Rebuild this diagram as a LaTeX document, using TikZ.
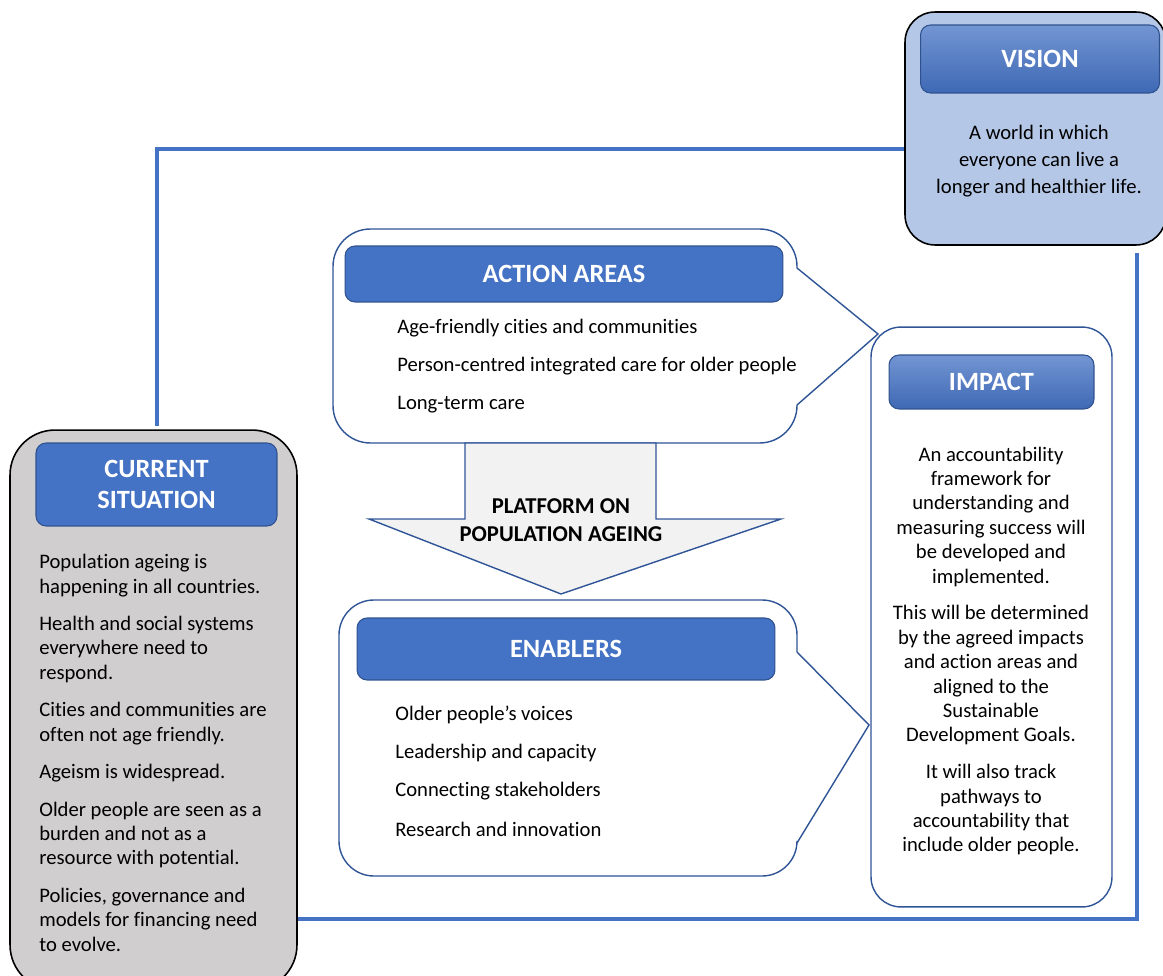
\documentclass[tikz,border=0pt]{standalone}
\usepackage{fontspec}
\setmainfont{Carlito}[Ligatures=NoCommon]
\usepackage{tikz}
\usetikzlibrary{positioning}
\usepackage{xcolor}
\definecolor{headblue}{HTML}{4472C4}
\definecolor{headedge}{HTML}{2F528F}
\definecolor{edgeblue}{HTML}{2F5597}
\definecolor{linkblue}{HTML}{4472C4}
\definecolor{visionblue}{HTML}{B4C7E7}
\definecolor{situgray}{HTML}{D0CECE}
\definecolor{arrowgray}{HTML}{F2F2F2}

\begin{document}
\begin{tikzpicture}[x=0.02cm, y=-0.02cm,
		head/.style={draw=headedge, line width=0.6pt, fill=headblue, rounded corners=0.2cm, text=white, font=\fontsize{15}{18}\selectfont\bfseries, align=center, inner sep=0pt},
		shadehead/.style={head, top color=headblue!75!white, bottom color=headblue!92!black},
		txt/.style={font=\fontsize{11.75}{13.9}\selectfont, inner sep=0pt},
		item/.style={txt, anchor=west},
		link/.style={draw=linkblue, line width=1.8pt},
		bubble/.style={draw=edgeblue, line width=0.8pt, fill=white}]
	\useasboundingbox (0,0) rectangle (1163,976);
	\clip (0,0) rectangle (1163,976);
	\node[draw=black, line width=0.9pt, fill=visionblue, rounded corners=0.6cm, minimum width=5.22cm, minimum height=4.66cm] (vision) at (1035.5,128.5) {};
	\node[shadehead, minimum width=4.78cm, minimum height=1.36cm] (visionhead) at (1040,59) {VISION};
	\node[txt, align=center, font=\fontsize{11.75}{15.3}\selectfont] (visiontext) at (1039,161) {A world in which\\everyone can live a\\longer and healthier life.};
	\node[draw=black, line width=0.9pt, fill=situgray, rounded corners=0.9cm, minimum width=5.74cm, minimum height=11.2cm] (situation) at (153.5,710) {};
	\node[head, minimum width=4.82cm, minimum height=1.66cm] (situhead) at (156.5,484.5) {CURRENT\\SITUATION};
	\node[txt, anchor=north west, align=left] (situtext) at (39,554) {Population ageing is\\happening in all countries.\\[7.4pt]
		Health and social systems\\everywhere need to\\respond.\\[7.4pt]
		Cities and communities are\\often not age friendly.\\[7.4pt]
		Ageism is widespread.\\[7.4pt]
		Older people are seen as a\\burden and not as a\\resource with potential.\\[7.4pt]
		Policies, governance and\\models for financing need\\to evolve.};
	\coordinate (leftbend) at (157,149);
	\coordinate (rightbend) at (1137,919);
	\draw[link, shorten >=2pt] (vision.west |- leftbend) -- (leftbend) -- (situation.north -| leftbend);
	\draw[link, shorten >=4pt] (situation.east |- rightbend) -- (rightbend) -- (vision.south -| rightbend);
	\node[bubble, rounded corners=0.6cm, minimum width=4.82cm, minimum height=11.6cm] (impact) at (991.5,617) {};
	\node[shadehead, minimum width=4.1cm, minimum height=1.08cm] (impacthead) at (991.5,382) {IMPACT};
	\node[txt, align=center] (impacttext) at (991,651) {An accountability\\framework for\\understanding and\\measuring success will\\be developed and\\implemented.\\[7pt]
		This will be determined\\by the agreed impacts\\and action areas and\\aligned to the\\Sustainable\\Development Goals.\\[7pt]
		It will also track\\pathways to\\accountability that\\include older people.};
	\draw[bubble] (797,268) [rounded corners=0.75cm] -- (797,229) -- (333,229) -- (333,443) -- (797,443) [sharp corners] -- (797,405) -- (878,334) -- cycle;
	\node[head, minimum width=8.76cm, minimum height=1.12cm] (actionhead) at (564,274) {ACTION AREAS};
	\node[item] (act1) at (397,328) {Age-friendly cities and communities};
	\node[item] (act2) at (397,366) {Person-centred integrated care for older people};
	\node[item] (act3) at (397,405) {Long-term care};
	\draw[draw=edgeblue, line width=0.8pt, fill=arrowgray] (465,443) -- (656,443) -- (656,519) -- (781,519) -- (561,594) -- (369,519) -- (465,519) -- cycle;
	\node[font=\fontsize{12.9}{16}\selectfont\bfseries, align=center, inner sep=0pt] (platform) at (561,520) {PLATFORM ON\\POPULATION AGEING};
	\draw[bubble] (797,652) [rounded corners=0.7cm] -- (797,600) -- (339,600) -- (339,876) -- (797,876) [sharp corners] -- (797,843) -- (869,725) -- cycle;
	\node[head, minimum width=8.36cm, minimum height=1.24cm] (enablehead) at (566,649) {ENABLERS};
	\node[item] (enab1) at (395,715) {Older people’s voices};
	\node[item] (enab2) at (395,753) {Leadership and capacity};
	\node[item] (enab3) at (395,791) {Connecting stakeholders};
	\node[item] (enab4) at (395,829) {Research and innovation};
\end{tikzpicture}
\end{document}
